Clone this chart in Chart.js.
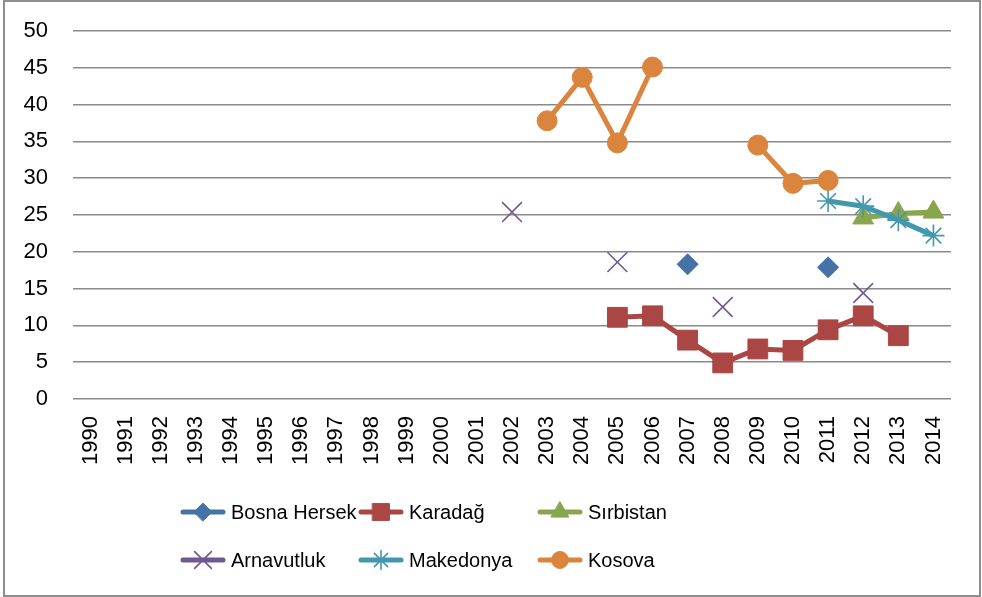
<!DOCTYPE html>
<html>
<head>
<meta charset="utf-8">
<script src="https://cdn.jsdelivr.net/npm/chart.js@4.4.1/dist/chart.umd.min.js"></script>
<style>
  html, body { margin: 0; padding: 0; background: #fff; }
  #wrap { position: relative; width: 982px; height: 597px; overflow: hidden; }
  #frame { position: absolute; left: 3px; top: 0; width: 978px; height: 597px; border: 2px solid #8e8e8e; box-sizing: border-box; }
  #chart { position: absolute; left: 0; top: 0; }
  #legend { position: absolute; left: 0; top: 0; font-family: "Liberation Sans", Arial, sans-serif; font-size: 20px; color: #000; }
  .item { position: absolute; display: flex; align-items: center; height: 30px; white-space: nowrap; }
  .item canvas { margin-right: 5px; }
</style>
</head>
<body>
<div id="wrap">
  <div id="frame"></div>
  <canvas id="chart" width="982" height="597"></canvas>
  <div id="legend"></div>
</div>
<script>
const years = ['1990','1991','1992','1993','1994','1995','1996','1997','1998','1999','2000','2001','2002',
  '2003','2004','2005','2006','2007','2008','2009','2010','2011','2012','2013','2014'];

// values by year, null where there is no data
const bosnaHersek = [null,null,null,null,null,null,null,null,null,null,null,null,null,
  null,null,null,null,18.3,null,null,null,17.9,null,null,null];
const karadag = [null,null,null,null,null,null,null,null,null,null,null,null,null,
  null,null,11.1,11.3,8.0,4.9,6.8,6.6,9.4,11.3,8.6,null];
const sirbistan = [null,null,null,null,null,null,null,null,null,null,null,null,null,
  null,null,null,null,null,null,null,null,null,24.6,25.2,25.4];
const arnavutluk = [null,null,null,null,null,null,null,null,null,null,null,null,25.4,
  null,null,18.6,null,null,12.5,null,null,null,14.4,null,null];
const makedonya = [null,null,null,null,null,null,null,null,null,null,null,null,null,
  null,null,null,null,null,null,null,null,26.9,26.2,24.3,22.2];
const kosova = [null,null,null,null,null,null,null,null,null,null,null,null,null,
  37.8,43.7,34.8,45.1,null,null,34.5,29.3,29.7,null,null,null];

const yTicks = [0, 5, 10, 15, 20, 25, 30, 35, 40, 45, 50];

const series = [
  { label: 'Bosna Hersek', data: bosnaHersek, color: '#4572a7', style: 'rectRot', radius: 10.5, bw: 1 },
  { label: 'Karadağ', data: karadag, color: '#aa4643', style: 'rect', radius: 14, bw: 1 },
  { label: 'Sırbistan', data: sirbistan, color: '#89a54e', style: 'triangle', radius: 12, bw: 1 },
  { label: 'Arnavutluk', data: arnavutluk, color: '#71588f', style: 'crossRot', radius: 14, bw: 1.6 },
  { label: 'Makedonya', data: makedonya, color: '#4198af', style: 'star', radius: 11, bw: 1.6 },
  { label: 'Kosova', data: kosova, color: '#db843d', style: 'circle', radius: 10, bw: 1 },
];

const tickFont = { family: '"Liberation Sans", Arial, sans-serif', size: 22 };

const chart = new Chart(document.getElementById('chart'), {
  type: 'line',
  data: {
    labels: years,
    datasets: series.map((s, i) => ({
      label: s.label,
      data: s.data,
      borderColor: s.color,
      backgroundColor: s.color,
      borderWidth: 5,
      pointStyle: s.style,
      pointRadius: s.radius,
      pointHoverRadius: s.radius,
      pointBorderColor: s.color,
      pointBackgroundColor: s.color,
      pointBorderWidth: s.bw,
      spanGaps: false,
      tension: 0,
      order: series.length - i,
    }))
  },
  options: {
    responsive: false,
    animation: false,
    devicePixelRatio: 1,
    layout: { padding: { top: 31, right: 31, left: 0, bottom: 0 } },
    plugins: { legend: { display: false }, tooltip: { enabled: false } },
    scales: {
      x: {
        offset: true,
        grid: { display: false, drawTicks: false },
        border: { display: false },
        ticks: { color: '#000', font: tickFont, minRotation: 90, maxRotation: 90, autoSkip: false, padding: 17 },
        afterFit: sc => { sc.height = 198; }
      },
      y: {
        min: 0,
        max: 50,
        afterBuildTicks: sc => { sc.ticks = yTicks.map(v => ({ value: v })); },
        grid: { color: '#8a8a8a', lineWidth: 1.6, drawTicks: false },
        border: { display: false },
        ticks: { color: '#000', font: tickFont, padding: 25 },
        afterFit: sc => { sc.width = 73; sc.paddingTop = 0; sc.paddingBottom = 0; }
      }
    }
  }
});

// legend laid out in a 3 x 2 grid like the original
const legendPos = [[180, 497], [358, 497], [537, 497], [180, 545], [358, 545], [537, 545]];
const legend = document.getElementById('legend');
series.forEach((s, i) => {
  const item = document.createElement('div');
  item.className = 'item';
  item.style.left = legendPos[i][0] + 'px';
  item.style.top = legendPos[i][1] + 'px';
  const c = document.createElement('canvas');
  c.width = 46; c.height = 30;
  const ctx = c.getContext('2d');
  ctx.strokeStyle = s.color;
  ctx.lineWidth = 5;
  ctx.lineCap = 'round';
  ctx.beginPath();
  ctx.moveTo(3, 15);
  ctx.lineTo(43, 15);
  ctx.stroke();
  ctx.fillStyle = s.color;
  ctx.lineWidth = s.bw;
  Chart.helpers.drawPoint(ctx, { pointStyle: s.style, radius: s.radius * 0.85, borderWidth: s.bw, rotation: 0 }, 23, 15);
  item.appendChild(c);
  const t = document.createElement('span');
  t.textContent = s.label;
  item.appendChild(t);
  legend.appendChild(item);
});
</script>
</body>
</html>
